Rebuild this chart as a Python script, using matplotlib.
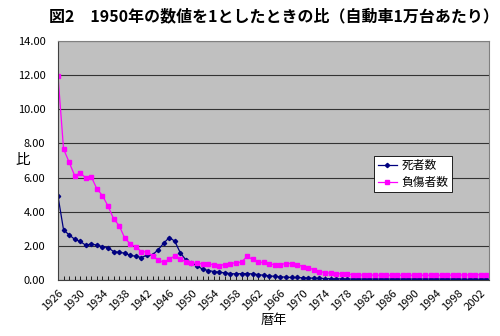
import numpy as np
import matplotlib
matplotlib.use("Agg")
import matplotlib.pyplot as plt

plt.rcParams['font.family'] = ['Noto Sans CJK JP', 'DejaVu Sans']

years = list(range(1926, 2004))

deaths = [4.90, 2.93, 2.64, 2.38, 2.25, 2.03, 2.11, 2.03, 1.95, 1.89,
          1.66, 1.61, 1.57, 1.43, 1.39, 1.31, 1.45, 1.47, 1.76, 2.15,
          2.48, 2.27, 1.58, 1.17, 1.00, 0.82, 0.63, 0.55, 0.49, 0.45,
          0.41, 0.37, 0.35, 0.37, 0.37, 0.35, 0.31, 0.27, 0.24, 0.20,
          0.18, 0.16, 0.14, 0.14, 0.12, 0.11, 0.10, 0.09, 0.08, 0.07,
          0.06, 0.06, 0.05, 0.05, 0.05, 0.05, 0.05, 0.05, 0.05, 0.05,
          0.05, 0.05, 0.05, 0.05, 0.05, 0.05, 0.05, 0.05, 0.05, 0.05,
          0.05, 0.05, 0.05, 0.04, 0.04, 0.04, 0.04, 0.04]

injuries = [11.95, 7.67, 6.90, 6.11, 6.25, 5.99, 6.03, 5.33, 4.94, 4.32,
            3.58, 3.18, 2.45, 2.11, 1.93, 1.66, 1.64, 1.42, 1.17, 1.02,
            1.21, 1.41, 1.23, 1.06, 1.00, 0.97, 0.94, 0.94, 0.88, 0.84,
            0.90, 0.96, 1.00, 1.04, 1.38, 1.20, 1.05, 1.02, 0.94, 0.88,
            0.90, 0.96, 0.96, 0.90, 0.78, 0.72, 0.59, 0.49, 0.43, 0.39,
            0.37, 0.35, 0.33, 0.31, 0.29, 0.28, 0.28, 0.28, 0.27, 0.27,
            0.27, 0.27, 0.27, 0.27, 0.27, 0.27, 0.27, 0.27, 0.27, 0.27,
            0.27, 0.28, 0.28, 0.29, 0.29, 0.30, 0.30, 0.30]

fig = plt.figure(figsize=(5, 3.36), dpi=100)
ax = fig.add_axes([0.116, 0.167, 0.862, 0.711])
ax.set_facecolor('#C0C0C0')

ax.plot(years, deaths, color='#000080', lw=0.9, marker='D', ms=2.2,
        label='死者数')
ax.plot(years, injuries, color='#FF00FF', lw=0.9, marker='s', ms=2.6,
        label='負傷者数')

ax.set_xlim(1926, 2003.5)
ax.set_ylim(0, 14)
ax.set_yticks(np.arange(0, 15, 2))
ax.set_yticklabels(['%.2f' % v for v in np.arange(0, 15, 2)], fontsize=8)
ax.yaxis.grid(True, color='#333333', lw=0.8)
ax.set_axisbelow(True)
ax.tick_params(axis='y', length=0, pad=9)

ax.set_xticks(years)
ax.set_xticklabels([str(y) if (y - 1926) % 4 == 0 else '' for y in years],
                   rotation=45, ha='right', rotation_mode='anchor', fontsize=8)
ax.tick_params(axis='x', direction='in', length=3, width=0.6, pad=6)

for s in ['top', 'right']:
    ax.spines[s].set_color('#808080')
    ax.spines[s].set_linewidth(0.8)
for s in ['left', 'bottom']:
    ax.spines[s].set_color('#404040')
    ax.spines[s].set_linewidth(0.8)

ax.set_xlabel('暦年', fontsize=9.5, labelpad=1)
fig.text(0.046, 0.524, '比', ha='center', va='center', fontsize=10.5)

fig.text(0.548, 0.953, '図2　1950年の数値を1としたときの比（自動車1万台あたり）',
         ha='center', va='center', fontsize=11.5, fontweight='bold')

leg = ax.legend(loc='upper left', bbox_to_anchor=(0.72, 0.545), fontsize=8.5,
                frameon=True, fancybox=False, handlelength=1.6,
                borderpad=0.3, labelspacing=0.3, handletextpad=0.4)
leg.get_frame().set_edgecolor('black')
leg.get_frame().set_linewidth(0.6)
leg.get_frame().set_facecolor('white')
leg.get_frame().set_alpha(1)

fig.savefig('out.png', dpi=100)
